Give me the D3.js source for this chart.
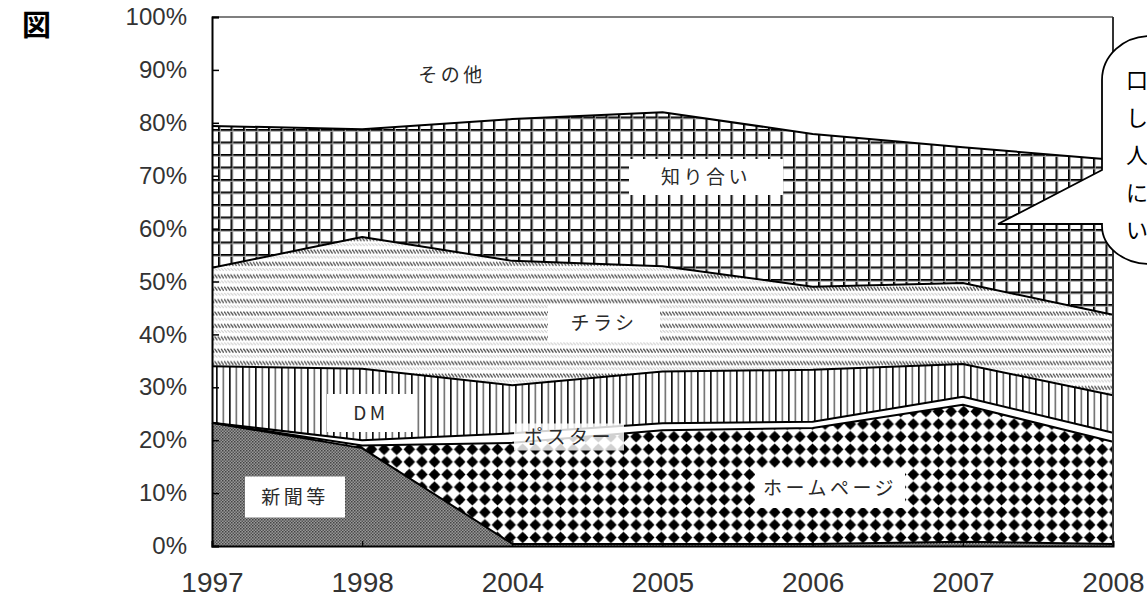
<!DOCTYPE html>
<html>
<head>
<meta charset="utf-8">
<script src="https://cdn.jsdelivr.net/npm/d3@7"></script>
<style>
  html, body { margin: 0; padding: 0; background: #fff; }
  svg { display: block; }
</style>
</head>
<body>
<svg id="chart" width="1147" height="613"></svg>
<script>
// Survey years (x categories)
const years = ["1997", "1998", "2004", "2005", "2006", "2007", "2008"];

// Share of each channel (%), stacked bottom to top
const newspaper    = [23.3, 18.5, 0.4, 0.4, 0.4, 0.8, 0.4];   // 新聞等
const homepage     = [0.0, 0.5, 19.1, 21.5, 21.9, 25.9, 19.3]; // ホームページ
const poster       = [0.0, 1.0, 1.8, 1.3, 1.2, 1.5, 1.7];      // ポスター
const dm           = [10.7, 13.5, 9.1, 9.8, 9.8, 6.2, 7.1];    // DM
const flyer        = [18.6, 24.9, 23.5, 19.9, 15.7, 15.3, 15.2]; // チラシ
const acquaintance = [26.8, 20.4, 26.8, 29.1, 28.9, 25.7, 29.3]; // 知り合い
const other        = [20.6, 21.2, 18.9, 18.0, 22.1, 24.6, 27.0]; // その他

const seriesKeys   = ["新聞等", "ホームページ", "ポスター", "DM", "チラシ", "知り合い", "その他"];
const seriesValues = [newspaper, homepage, poster, dm, flyer, acquaintance, other];

const yTicks = [0, 10, 20, 30, 40, 50, 60, 70, 80, 90, 100];

// Speech-bubble note (only its left edge fits on the page)
const noteLines = ["口", "し", "人", "に", "い"];

// ---- build table for d3.stack ----
const table = years.map((yr, i) => {
  const row = { year: yr };
  seriesKeys.forEach((k, j) => { row[k] = seriesValues[j][i]; });
  return row;
});

const svg = d3.select("#chart");
const plot = { left: 212, right: 1113, top: 17, bottom: 546 };

const x = d3.scalePoint().domain(years).range([plot.left, plot.right]).padding(0);
const y = d3.scaleLinear().domain([0, 100]).range([plot.bottom, plot.top]);

// ---- fill patterns ----
const defs = svg.append("defs");

// 新聞等: fine dark-grey stipple
const pNews = defs.append("pattern").attr("id", "pNews")
  .attr("patternUnits", "userSpaceOnUse").attr("width", 3).attr("height", 3);
pNews.append("rect").attr("width", 3).attr("height", 3).attr("fill", "#999");
pNews.append("rect").attr("width", 1.5).attr("height", 1.5).attr("fill", "#444");
pNews.append("rect").attr("x", 1.5).attr("y", 1.5).attr("width", 1.5).attr("height", 1.5).attr("fill", "#555");

// ホームページ: grid of black diamond dots
const dotStep = 12.6;
const pHome = defs.append("pattern").attr("id", "pHome")
  .attr("patternUnits", "userSpaceOnUse").attr("width", dotStep).attr("height", dotStep)
  .attr("x", plot.left + 2).attr("y", 2);
pHome.append("rect").attr("width", dotStep).attr("height", dotStep).attr("fill", "#fff");
const c = dotStep / 2;
pHome.append("circle").attr("cx", c).attr("cy", c).attr("r", 3.9).attr("fill", "#000");
pHome.append("path")
  .attr("d", `M${c},${c - 5.8} L${c + 5.8},${c} L${c},${c + 5.8} L${c - 5.8},${c} Z`)
  .attr("fill", "#000");

// DM: vertical stripes, alternating dark and grey
const pDM = defs.append("pattern").attr("id", "pDM")
  .attr("patternUnits", "userSpaceOnUse").attr("width", 13).attr("height", 10)
  .attr("x", plot.left + 4);
pDM.append("rect").attr("width", 13).attr("height", 10).attr("fill", "#fff");
pDM.append("rect").attr("x", 0).attr("width", 1.7).attr("height", 10).attr("fill", "#111");
pDM.append("rect").attr("x", 6.5).attr("width", 1.7).attr("height", 10).attr("fill", "#777");

// チラシ: rows of short back-slanted strokes
const rowStep = 12.4;
const pFlyer = defs.append("pattern").attr("id", "pFlyer")
  .attr("patternUnits", "userSpaceOnUse").attr("width", 3.2).attr("height", rowStep);
pFlyer.append("rect").attr("width", 3.2).attr("height", rowStep).attr("fill", "#fff");
pFlyer.append("line").attr("x1", 0.2).attr("y1", 1.5).attr("x2", 3.0).attr("y2", 5.5)
  .attr("stroke", "#4a4a4a").attr("stroke-width", 1.3);
pFlyer.append("line").attr("x1", 0.2).attr("y1", 7.7).attr("x2", 3.0).attr("y2", 10.3)
  .attr("stroke", "#c8c8c8").attr("stroke-width", 1);

// 知り合い: square grid
const gridStep = 12.5;
const pAcq = defs.append("pattern").attr("id", "pAcq")
  .attr("patternUnits", "userSpaceOnUse").attr("width", gridStep).attr("height", gridStep)
  .attr("x", plot.left + 6).attr("y", 4);
pAcq.append("rect").attr("width", gridStep).attr("height", gridStep).attr("fill", "#fff");
pAcq.append("rect").attr("x", 0).attr("width", 1.8).attr("height", gridStep).attr("fill", "#000");
pAcq.append("rect").attr("y", 0).attr("width", gridStep).attr("height", 1.8).attr("fill", "#000");
pAcq.append("rect").attr("x", 1.8).attr("width", 1).attr("height", gridStep).attr("fill", "#aaa");
pAcq.append("rect").attr("y", 1.8).attr("width", gridStep).attr("height", 1).attr("fill", "#aaa");

const fills = {
  "新聞等": "url(#pNews)",
  "ホームページ": "url(#pHome)",
  "ポスター": "#fff",
  "DM": "url(#pDM)",
  "チラシ": "url(#pFlyer)",
  "知り合い": "url(#pAcq)",
  "その他": "#fff"
};

// ---- stacked areas ----
const stack = d3.stack().keys(seriesKeys);
const layers = stack(table);

const area = d3.area()
  .x(d => x(d.data.year))
  .y0(d => y(d[0]))
  .y1(d => y(d[1]));

svg.append("g").selectAll("path")
  .data(layers)
  .join("path")
  .attr("d", area)
  .attr("fill", d => fills[d.key]);

// boundary line on top of each layer (except the 100% ceiling)
const topLine = d3.line().x(d => x(d.data.year)).y(d => y(d[1]));
svg.append("g").selectAll("path")
  .data(layers.filter(l => l.key !== "その他"))
  .join("path")
  .attr("d", topLine)
  .attr("fill", "none")
  .attr("stroke", "#000")
  .attr("stroke-width", 2)
  .attr("stroke-linejoin", "round");

// ---- frame ----
svg.append("line").attr("x1", plot.left).attr("x2", plot.right)
  .attr("y1", plot.top).attr("y2", plot.top)
  .attr("stroke", "#555").attr("stroke-width", 1.6);
svg.append("line").attr("x1", plot.right).attr("x2", plot.right)
  .attr("y1", plot.top).attr("y2", plot.bottom)
  .attr("stroke", "#333").attr("stroke-width", 2);

// ---- axes ----
const yAxis = d3.axisLeft(y)
  .tickValues(yTicks)
  .tickFormat(d => d + "%")
  .tickSize(-7)
  .tickPadding(25);
const gy = svg.append("g").attr("transform", `translate(${plot.left},0)`).call(yAxis);
gy.select(".domain").attr("stroke", "#000").attr("stroke-width", 2);
gy.selectAll(".tick line").attr("stroke", "#000").attr("stroke-width", 1.5);
gy.selectAll("text")
  .attr("font-family", "'Liberation Sans', Arial, sans-serif")
  .attr("font-size", 24)
  .attr("fill", "#333");

const xAxis = d3.axisBottom(x).tickSize(-5).tickPadding(26);
const gx = svg.append("g").attr("transform", `translate(0,${plot.bottom})`).call(xAxis);
gx.select(".domain").attr("stroke", "#000").attr("stroke-width", 2);
gx.selectAll(".tick line").attr("stroke", "#000").attr("stroke-width", 1.2);
gx.selectAll("text")
  .attr("font-family", "'Liberation Sans', Arial, sans-serif")
  .attr("font-size", 28)
  .attr("fill", "#333");

// ---- series labels in white boxes ----
const jp = "'Noto Sans CJK JP', sans-serif";
const labelBoxes = [
  { text: "その他",       cx: 452, cy: 75,  w: 110, h: 36 },
  { text: "知り合い",     cx: 706, cy: 177, w: 154, h: 36 },
  { text: "チラシ",       cx: 604, cy: 323, w: 112, h: 38 },
  { text: "DM",           cx: 371, cy: 413, w: 88,  h: 38 },
  { text: "ポスター",     cx: 569, cy: 437, w: 110, h: 27, op: 0.82 },
  { text: "ホームページ", cx: 830, cy: 488, w: 150, h: 40 },
  { text: "新聞等",       cx: 295, cy: 497, w: 100, h: 41 }
];
const lg = svg.append("g");
labelBoxes.forEach(b => {
  lg.append("rect")
    .attr("x", b.cx - b.w / 2).attr("y", b.cy - b.h / 2)
    .attr("width", b.w).attr("height", b.h)
    .attr("fill", "#fff").attr("fill-opacity", b.op || 1);
  lg.append("text")
    .attr("x", b.cx).attr("y", b.cy)
    .attr("dy", "0.36em")
    .attr("text-anchor", "middle")
    .attr("font-family", jp)
    .attr("font-size", 19)
    .attr("letter-spacing", 3.5)
    .attr("fill", "#2a2a2a")
    .text(b.text);
});

// ---- title ----
svg.append("text")
  .attr("x", 22).attr("y", 36)
  .attr("font-family", jp)
  .attr("font-weight", 700)
  .attr("font-size", 29)
  .attr("fill", "#000")
  .text("図");

// ---- speech bubble pointing into 知り合い ----
svg.append("path")
  .attr("d", "M1200,36 L1150,36 A48,44 0 0 0 1102,80 L1102,170 L998,224 L1102,224 L1102,226 A48,38 0 0 0 1150,264 L1200,264 Z")
  .attr("fill", "#fff")
  .attr("stroke", "#000")
  .attr("stroke-width", 1.8);

svg.append("g").selectAll("text")
  .data(noteLines)
  .join("text")
  .attr("x", 1126)
  .attr("y", (d, i) => 88 + i * 37.5)
  .attr("font-family", jp)
  .attr("font-size", 22)
  .attr("fill", "#000")
  .text(d => d);
</script>
</body>
</html>
